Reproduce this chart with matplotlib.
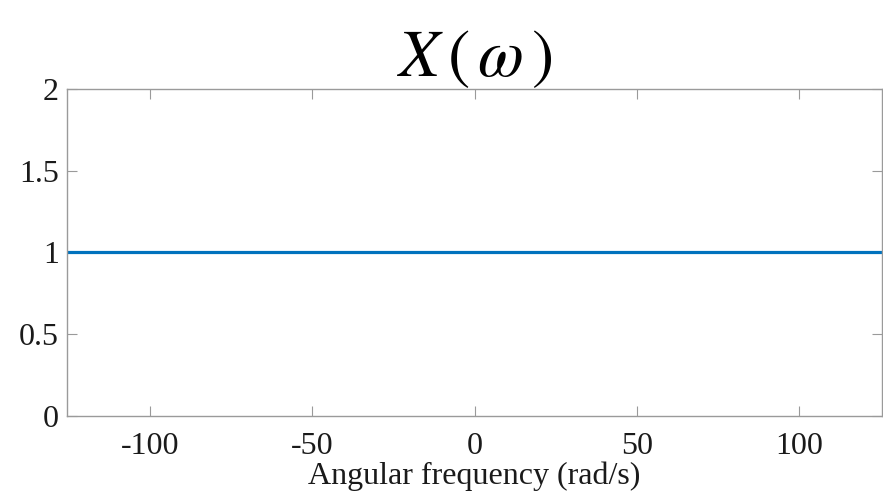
import numpy as np
import matplotlib
matplotlib.use("Agg")
from matplotlib import pyplot as plt

# spectrum of a unit impulse: flat magnitude
omega = [-125, 125]
magnitude = [1, 1]
xticks = [-100, -50, 0, 50, 100]
yticks = [0, 0.5, 1, 1.5, 2]
ytick_labels = ["0", "0.5", "1", "1.5", "2"]

plt.rcParams['font.family'] = ['Liberation Serif', 'DejaVu Serif']
plt.rcParams['mathtext.fontset'] = 'stix'
plt.rcParams['axes.unicode_minus'] = False

fig = plt.figure(figsize=(8.83, 4.95), dpi=100)
ax = fig.add_axes([0.0759, 0.1606, 0.923, 0.6586])

ax.plot(omega, magnitude, color='#0072BD', linewidth=2.3)

ax.set_xlim(-125.5, 125.5)
ax.set_ylim(0, 2)
ax.set_xticks(xticks)
ax.set_yticks(yticks)
ax.set_yticklabels(ytick_labels)

for s in ax.spines.values():
    s.set_color('#9a9a9a')
    s.set_linewidth(1.0)

ax.tick_params(direction='in', length=7, width=0.8, color='#9a9a9a',
               top=True, right=True, labelsize=23, labelcolor='#1a1a1a', pad=6)
ax.tick_params(axis='x', pad=12)

ax.set_xlabel("Angular frequency (rad/s)", fontsize=23, color='#1a1a1a', labelpad=0)
ax.set_title(r"$X\,(\,\omega\,)$", fontsize=48, color='black', pad=10)

fig.savefig("out.png", dpi=100)
